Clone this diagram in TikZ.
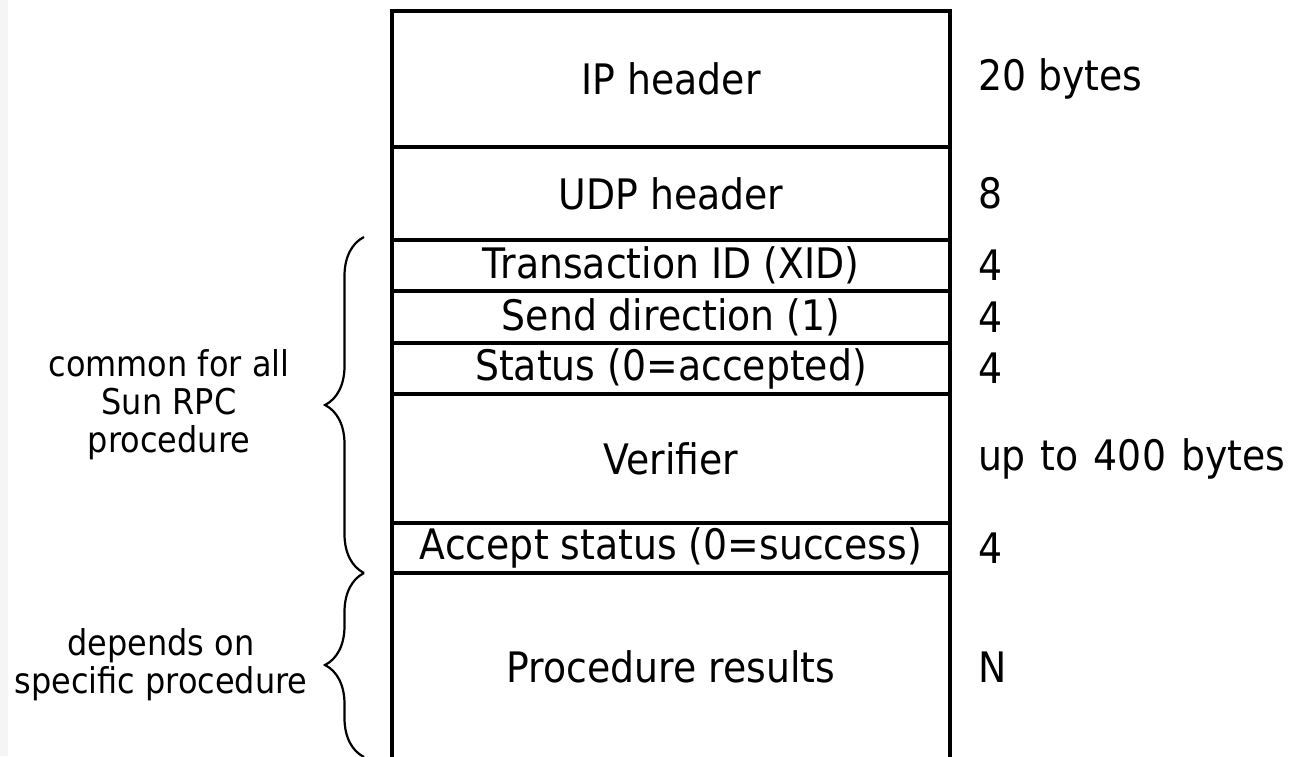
\documentclass[tikz,border=0pt]{standalone}
\usepackage{fontspec}
\setmainfont{DejaVu Sans}[FakeStretch=0.9]
\usetikzlibrary{decorations.pathreplacing}
\begin{document}
\begin{tikzpicture}[x=1pt,y=-1pt,
  row/.style={draw, line width=3.5pt, minimum width=558pt, inner sep=0pt, outer sep=0pt,
     anchor=north, font=\fontsize{42}{48}\selectfont},
  lab/.style={anchor=west, inner sep=0pt, outer sep=0pt, xshift=28pt, font=\fontsize{42}{48}\selectfont},
  side/.style={align=center, inner sep=0pt, font=\fontsize{35.5}{38}\selectfont},
  brc/.style={decorate, decoration={brace, amplitude=39pt}, line width=2.2pt}]
\useasboundingbox (0,0) rectangle (1315,756);
\clip (0,0) rectangle (1315,756);
\fill[black!4] (0,0) rectangle (8,756);
\node[row, minimum height=136pt] (ip) at (671,11) {IP header};
\node[row, minimum height=93pt] (udp) at (ip.south) {UDP header};
\node[row, minimum height=51pt] (xid) at (udp.south) {Transaction ID (XID)};
\node[row, minimum height=52pt] (dir) at (xid.south) {Send direction (1)};
\node[row, minimum height=51pt] (st) at (dir.south) {Status (0=accepted)};
\node[row, minimum height=129pt] (ver) at (st.south) {Verifier};
\node[row, minimum height=50pt] (acc) at (ver.south) {Accept status (0=success)};
\node[row, minimum height=188pt] (proc) at (acc.south) {Procedure results};
\node[lab] (lip) at (ip.east) {20 bytes};
\node[lab] (ludp) at (udp.east) {8};
\node[lab] (lxid) at (xid.east) {4};
\node[lab] (ldir) at (dir.east) {4};
\node[lab] (lst) at (st.east) {4};
\node[lab] (lver) at (ver.east) {up\hspace{3pt} to\hspace{3pt} 400\hspace{3pt} bytes};
\node[lab] (lacc) at (acc.east) {4};
\node[lab] (lproc) at (proc.east) {N};
\coordinate (b1top) at (364,237);
\coordinate (b1bot) at (364,573);
\coordinate (b2bot) at (364,757);
\draw[brc] (b1bot) -- (b1top);
\draw[brc] (b2bot) -- (b1bot);
\node[side] (common) at (169,405) {common for all\\Sun RPC\\procedure};
\node[side] (depends) at (161,665) {depends on\\specific procedure};
\end{tikzpicture}
\end{document}
